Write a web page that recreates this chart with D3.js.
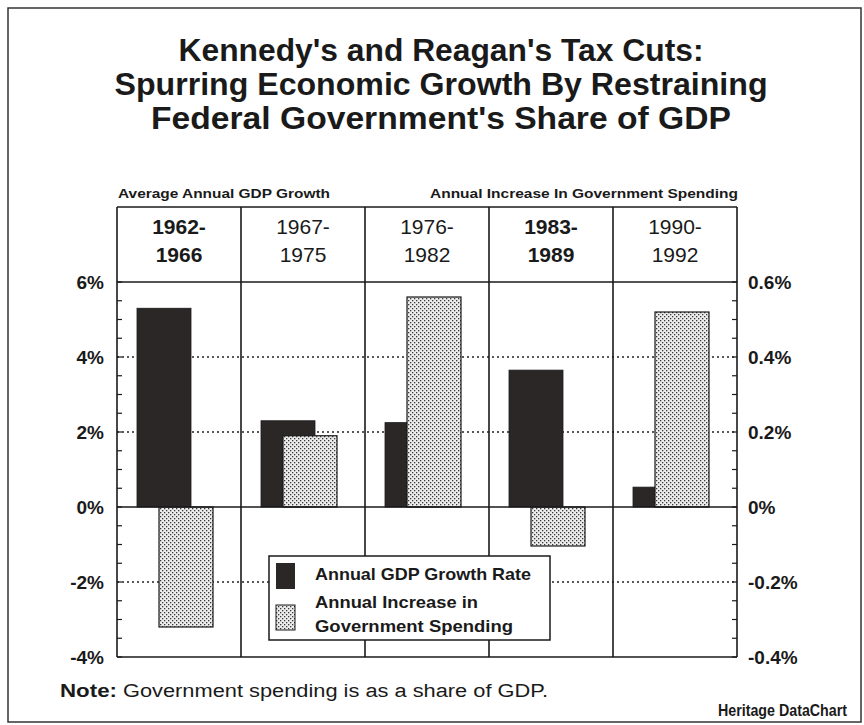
<!DOCTYPE html>
<html><head><meta charset="utf-8">
<script src="https://cdn.jsdelivr.net/npm/d3@7"></script>
<style>body{margin:0;background:#fff}svg{display:block}text{font-family:"Liberation Sans",Arial,sans-serif;fill:#1a1a1a}</style>
</head><body>
<script>
// ---- data ----
const periodsTop = ["1962-", "1967-", "1976-", "1983-", "1990-"];
const periodsBottom = ["1966", "1975", "1982", "1989", "1992"];
const periodBold = [true, false, false, true, false];
const gdpGrowth = [5.3, 2.3, 2.25, 3.65, 0.53];          // % (left axis)
const spendIncrease = [-0.32, 0.19, 0.56, -0.104, 0.52]; // % of GDP (right axis)
const leftTicks = [6, 4, 2, 0, -2, -4];
const rightTicks = [0.6, 0.4, 0.2, 0, -0.2, -0.4];
const titleLines = ["Kennedy's and Reagan's Tax Cuts:", "Spurring Economic Growth By Restraining", "Federal Government's Share of GDP"];

const W = 864, H = 725;
const svg = d3.select("body").append("svg").attr("width", W).attr("height", H);
const defs = svg.append("defs");
const pat = defs.append("pattern").attr("id", "dots").attr("patternUnits", "userSpaceOnUse").attr("width", 4).attr("height", 4);
pat.append("rect").attr("width", 4).attr("height", 4).attr("fill", "#ececec");
pat.append("rect").attr("x", 0).attr("y", 0).attr("width", 1.3).attr("height", 1.3).attr("fill", "#3a3a3a");
pat.append("rect").attr("x", 2).attr("y", 2).attr("width", 1.3).attr("height", 1.3).attr("fill", "#3a3a3a");

// frame
svg.append("rect").attr("x", 8).attr("y", 8).attr("width", 853).attr("height", 714).attr("fill", "none").attr("stroke", "#333").attr("stroke-width", 1.5);

// title
const title = svg.append("g");
const titleW = [525, 653, 580];
titleLines.forEach((t, i) => {
  title.append("text").attr("x", 441).attr("y", 61 + i * 34).attr("text-anchor", "middle")
    .attr("font-size", 32).attr("font-weight", "bold").attr("textLength", titleW[i]).attr("lengthAdjust", "spacingAndGlyphs").text(t);
});

const L = 117, R = 737, headTop = 207;
const x = d3.scaleBand().domain(d3.range(periodsTop.length)).range([L, R]).padding(0);
const yL = d3.scaleLinear().domain([-4, 6]).range([657, 282]);
const yR = d3.scaleLinear().domain([-0.4, 0.6]).range([657, 282]);

// header labels
svg.append("text").attr("x", 118).attr("y", 198).attr("font-size", 13).attr("font-weight", "bold")
  .attr("textLength", 212).attr("lengthAdjust", "spacingAndGlyphs").text("Average Annual GDP Growth");
svg.append("text").attr("x", 430).attr("y", 198).attr("font-size", 13).attr("font-weight", "bold")
  .attr("textLength", 308).attr("lengthAdjust", "spacingAndGlyphs").text("Annual Increase  In Government Spending");

// gridlines (dotted)
const gl = svg.append("g");
leftTicks.filter(v => v !== 0 && v !== 6 && v !== -4).forEach(v => {
  gl.append("line").attr("x1", L).attr("x2", R).attr("y1", yL(v)).attr("y2", yL(v))
    .attr("stroke", "#222").attr("stroke-width", 1.3).attr("stroke-dasharray", "2,3");
});

// bars
const bw = 54;
const g = svg.append("g");
g.selectAll(".gdp").data(gdpGrowth).join("rect").attr("class", "gdp")
  .attr("x", (d, i) => x(i) + 20).attr("width", bw)
  .attr("y", d => yL(Math.max(0, d))).attr("height", d => Math.abs(yL(d) - yL(0)))
  .attr("fill", "#2b2727").attr("stroke", "#1a1a1a").attr("stroke-width", 0.8);
g.selectAll(".sp").data(spendIncrease).join("rect").attr("class", "sp")
  .attr("x", (d, i) => x(i) + 42).attr("width", bw)
  .attr("y", d => yR(Math.max(0, d))).attr("height", d => Math.abs(yR(d) - yR(0)))
  .attr("fill", "url(#dots)").attr("stroke", "#1a1a1a").attr("stroke-width", 1.2);

// structure lines
const st = svg.append("g").attr("stroke", "#1a1a1a").attr("stroke-width", 1.6);
st.append("line").attr("x1", L).attr("x2", R).attr("y1", headTop).attr("y2", headTop);
st.append("line").attr("x1", L).attr("x2", R).attr("y1", yL(6)).attr("y2", yL(6));
st.append("line").attr("x1", L).attr("x2", R).attr("y1", yL(0)).attr("y2", yL(0));
st.append("line").attr("x1", L).attr("x2", R).attr("y1", yL(-4)).attr("y2", yL(-4));
d3.range(periodsTop.length + 1).forEach(i => {
  const xx = i < periodsTop.length ? x(i) : R;
  st.append("line").attr("x1", xx).attr("x2", xx).attr("y1", headTop).attr("y2", yL(-4));
});

// minor ticks
const tk = svg.append("g").attr("stroke", "#1a1a1a").attr("stroke-width", 1.2);
d3.range(-4, 6.01, 0.5).forEach(v => {
  tk.append("line").attr("x1", L).attr("x2", L + 5).attr("y1", yL(v)).attr("y2", yL(v));
});
d3.range(-0.4, 0.601, 0.05).forEach(v => {
  tk.append("line").attr("x1", R - 5).attr("x2", R).attr("y1", yR(v)).attr("y2", yR(v));
});

// period labels
periodsTop.forEach((p, i) => {
  const cx = x(i) + x.bandwidth() / 2;
  const fw = periodBold[i] ? "bold" : "normal";
  svg.append("text").attr("x", cx).attr("y", 234).attr("text-anchor", "middle").attr("font-size", 21).attr("font-weight", fw).text(p);
  svg.append("text").attr("x", cx).attr("y", 262).attr("text-anchor", "middle").attr("font-size", 21).attr("font-weight", fw).text(periodsBottom[i]);
});

// axis labels
const fmtR = v => d3.format(".1~f")(v).replace("\u2212", "-") + "%";
leftTicks.forEach(v => {
  svg.append("text").attr("x", 104).attr("y", yL(v) + 7).attr("text-anchor", "end").attr("font-size", 19).attr("font-weight", "bold").text(v + "%");
});
rightTicks.forEach(v => {
  svg.append("text").attr("x", 748).attr("y", yR(v) + 7).attr("font-size", 19).attr("font-weight", "bold").text(fmtR(v));
});

// legend
const lg = svg.append("g");
lg.append("rect").attr("x", 269).attr("y", 556).attr("width", 281).attr("height", 84).attr("fill", "#fff").attr("stroke", "#1a1a1a").attr("stroke-width", 1.5);
lg.append("rect").attr("x", 276).attr("y", 563).attr("width", 19).attr("height", 26).attr("fill", "#2b2727");
lg.append("rect").attr("x", 276).attr("y", 605).attr("width", 19).attr("height", 25).attr("fill", "url(#dots)").attr("stroke", "#1a1a1a").attr("stroke-width", 1);
lg.append("text").attr("x", 315).attr("y", 580).attr("font-size", 17).attr("font-weight", "bold").attr("textLength", 216).attr("lengthAdjust", "spacingAndGlyphs").text("Annual GDP Growth Rate");
lg.append("text").attr("x", 315).attr("y", 608).attr("font-size", 17).attr("font-weight", "bold").attr("textLength", 163).attr("lengthAdjust", "spacingAndGlyphs").text("Annual Increase in");
lg.append("text").attr("x", 315).attr("y", 632).attr("font-size", 17).attr("font-weight", "bold").attr("textLength", 198).attr("lengthAdjust", "spacingAndGlyphs").text("Government Spending");

// note
svg.append("text").attr("x", 60).attr("y", 697).attr("font-size", 19).attr("font-weight", "bold")
  .attr("textLength", 57).attr("lengthAdjust", "spacingAndGlyphs").text("Note:");
svg.append("text").attr("x", 123).attr("y", 697).attr("font-size", 18)
  .attr("textLength", 425).attr("lengthAdjust", "spacingAndGlyphs").text("Government spending is as a share of GDP.");
svg.append("text").attr("x", 847).attr("y", 716).attr("text-anchor", "end").attr("font-size", 16).attr("font-weight", "bold")
  .attr("textLength", 129).attr("lengthAdjust", "spacingAndGlyphs").text("Heritage DataChart");
</script>
</body></html>
